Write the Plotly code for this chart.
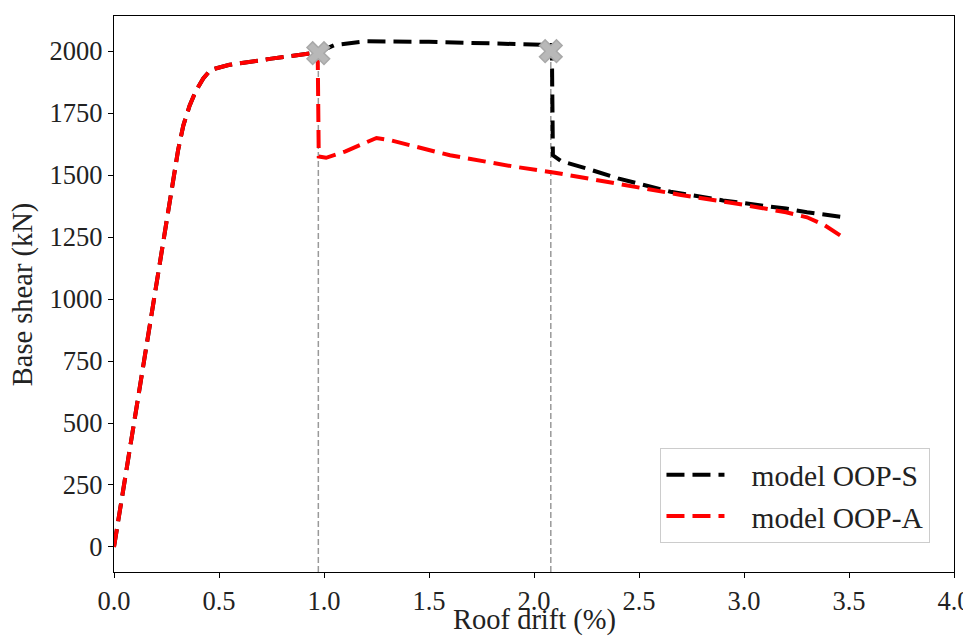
import plotly.graph_objects as go

# Model OOP-S (black)
drift_S = [0, 0.065, 0.13, 0.195, 0.26, 0.305, 0.33, 0.36, 0.39, 0.425, 0.46, 0.55, 0.75, 0.97,
           1.05, 1.2, 1.5, 1.8, 2.0, 2.085, 2.09, 2.13, 2.25, 2.4, 2.65, 2.9, 3.2, 3.3, 3.48]
shear_S = [0, 340, 680, 1020, 1360, 1600, 1700, 1780, 1840, 1890, 1925, 1945, 1970, 1995,
           2025, 2040, 2038, 2032, 2028, 2025, 1580, 1556, 1527, 1487, 1433, 1398, 1365, 1350, 1330]

# Model OOP-A (red)
drift_A = [0, 0.065, 0.13, 0.195, 0.26, 0.305, 0.33, 0.36, 0.39, 0.425, 0.46, 0.55, 0.75, 0.97,
           0.975, 1.01, 1.1, 1.25, 1.32, 1.6, 1.9, 2.1, 2.4, 2.7, 3.0, 3.2, 3.3, 3.38, 3.48]
shear_A = [0, 340, 680, 1020, 1360, 1600, 1700, 1780, 1840, 1890, 1925, 1945, 1970, 1995,
           1575, 1570, 1595, 1650, 1640, 1580, 1535, 1510, 1465, 1420, 1380, 1350, 1330, 1300, 1245]

# Failure points
fail_drift = [0.973, 2.08]
fail_shear = [1992, 2000]

series_names = ["model OOP-S", "model OOP-A"]
x_ticks = [0.0, 0.5, 1.0, 1.5, 2.0, 2.5, 3.0, 3.5, 4.0]
y_ticks = [0, 250, 500, 750, 1000, 1250, 1500, 1750, 2000]
x_range = [0, 4]
y_range = [-101, 2142]

FONT = "Liberation Serif, Times New Roman, serif"
TICK_FS = 26.5
TITLE_FS = 28.5
LEG_FS = 29.5
PAD = "\u00a0\u00a0\u00a0"

fig = go.Figure()

for xd, yd in zip(fail_drift, fail_shear):
    fig.add_shape(type="line", xref="x", yref="y", x0=xd, x1=xd, y0=y_range[0], y1=yd,
                  line=dict(color="rgba(128,128,128,0.8)", width=1.5, dash="6px,3px"), layer="below")

fig.add_trace(go.Scatter(x=drift_S, y=shear_S, mode="lines", name=PAD + series_names[0],
                         line=dict(color="black", width=4, dash="18px,8px")))
fig.add_trace(go.Scatter(x=drift_A, y=shear_A, mode="lines", name=PAD + series_names[1],
                         line=dict(color="red", width=4, dash="18px,8px")))
fig.add_trace(go.Scatter(x=fail_drift, y=fail_shear, mode="markers", showlegend=False,
                         marker=dict(symbol="x", size=20, color="#b8b8b8",
                                     line=dict(color="#a8a8a8", width=1.5))))

axis_common = dict(showline=True, linecolor="black", linewidth=1.3, mirror=True,
                   ticks="outside", ticklen=5, tickwidth=1.2, tickcolor="black",
                   showgrid=False, zeroline=False, automargin=False,
                   tickfont=dict(family=FONT, size=TICK_FS, color="#222"))

fig.update_xaxes(range=x_range, tickvals=x_ticks, ticktext=[f"{v:.1f}" for v in x_ticks],
                 **axis_common)
fig.update_yaxes(range=y_range, tickvals=y_ticks, ticktext=[str(v) for v in y_ticks],
                 **axis_common)

title_font = dict(family=FONT, size=TITLE_FS, color="#222")

# The page body adds an 8px offset, so the figure is 8px smaller and margins shifted.
fig.update_layout(
    width=963, height=630,
    margin=dict(l=106, r=17, t=8, b=66),
    plot_bgcolor="white", paper_bgcolor="white",
    showlegend=True,
    legend=dict(x=0.972, y=0.052, xanchor="right", yanchor="bottom",
                bgcolor="rgba(255,255,255,0.9)", bordercolor="#cccccc", borderwidth=1,
                font=dict(family=FONT, size=LEG_FS, color="#222"), itemwidth=58),
    annotations=[
        dict(text="Base shear (kN)", textangle=-90, xref="paper", yref="paper",
             x=-0.108, y=0.5, xanchor="center", yanchor="middle", showarrow=False,
             font=title_font),
        dict(text="Roof drift (%)", xref="paper", yref="paper",
             x=0.5, y=-0.086, xanchor="center", yanchor="middle", showarrow=False,
             font=title_font),
    ],
)

fig.write_html("out.html")
